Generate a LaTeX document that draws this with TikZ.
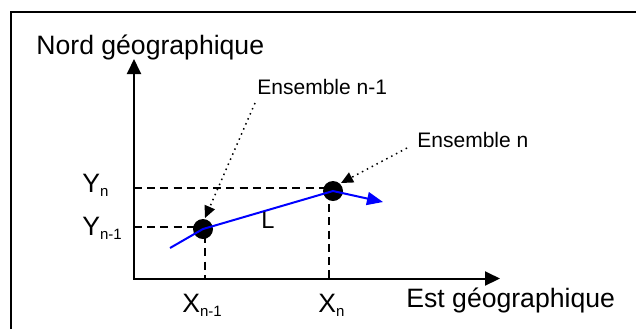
\documentclass[tikz,border=0pt]{standalone}
\usepackage{fontspec}
\setmainfont{Liberation Sans}
\usetikzlibrary{arrows.meta}
\newcommand\subtxt[1]{\raisebox{-2pt}{\fontsize{7.5}{8}\selectfont #1}}
\begin{document}
\begin{tikzpicture}[x=0.5pt,y=-0.5pt,
  bigtxt/.style={font=\fontsize{13.3}{15}\selectfont, inner sep=0pt, anchor=base west},
  smalltxt/.style={font=\fontsize{10.5}{12}\selectfont, inner sep=0pt, anchor=base west},
  ltxt/.style={font=\fontsize{11.8}{13}\selectfont, inner sep=0pt, anchor=base west},
  frame/.style={line width=1pt},
  axis/.style={line width=1pt, {Triangle[length=7.5pt,width=7pt]}-{Triangle[length=7.5pt,width=7pt]}},
  guide/.style={line width=0.8pt, dash pattern=on 4pt off 2.6pt},
  pointer/.style={line width=0.75pt, dotted, -{Triangle[length=6pt,width=5.5pt]}},
  track/.style={line width=1pt, blue, -{Triangle[length=8pt,width=6.5pt]}},
  dot/.style={circle, fill=black, inner sep=0pt, minimum size=10pt}]
\useasboundingbox (0,0) rectangle (636,329);
% frame (only left and top edges visible)
\coordinate (fbl) at (10.5,329);
\coordinate (ftl) at (10.5,11.5);
\coordinate (ftr) at (636,11.5);
\draw[frame] (fbl) -- (ftl) -- (ftr);
% axes
\coordinate (O) at (134,278.5);
\coordinate (ytip) at (134,59);
\coordinate (xtip) at (500,278.5);
\draw[axis] (ytip) -- (O) -- (xtip);
% points
\node[dot] (pn1) at (203,229) {};
\node[dot] (pn) at (333,191) {};
% guide lines
\coordinate (ayn) at (134,188);
\coordinate (gyn) at (329,188);
\coordinate (axn) at (329,278.5);
\coordinate (ayn1) at (134,227);
\coordinate (gyn1) at (205,227);
\coordinate (axn1) at (205,278.5);
\draw[guide] (ayn) -- (gyn) -- (axn);
\draw[guide] (ayn1) -- (gyn1) -- (axn1);
% blue track
\coordinate (tstart) at (170,248);
\coordinate (tend) at (383,202);
\draw[track] (tstart) -- (pn1.center) -- (pn.center) -- (tend);
% labels
\node[bigtxt] (nord) at (36,54) {Nord géographique};
\node[bigtxt] (est) at (406,307) {Est géographique};
\node[smalltxt] (e1) at (257,94) {Ensemble n-1};
\node[smalltxt] (e2) at (417,147) {Ensemble n};
\node[bigtxt] (yn) at (82,192) {Y\subtxt{n}};
\node[bigtxt] (yn1) at (82,235) {Y\subtxt{n-1}};
\node[bigtxt] (xn1) at (182,312) {X\subtxt{n-1}};
\node[bigtxt] (xn) at (318,312) {X\subtxt{n}};
\node[ltxt] (L) at (261,228) {L};
% pointers
\coordinate (p1s) at (255,103);
\coordinate (p1e) at (205,218);
\coordinate (p2s) at (407,148);
\coordinate (p2e) at (341,183);
\draw[pointer] (p1s) -- (p1e);
\draw[pointer] (p2s) -- (p2e);
\end{tikzpicture}
\end{document}
